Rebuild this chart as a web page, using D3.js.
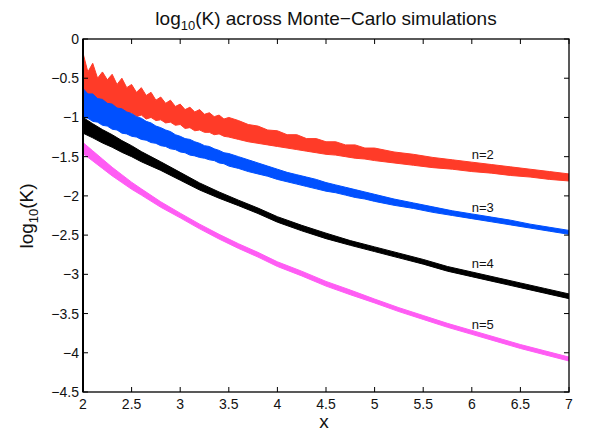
<!DOCTYPE html>
<html>
<head>
<meta charset="utf-8">
<script src="https://cdn.jsdelivr.net/npm/d3@7"></script>
<style>
  body { margin: 0; background: #fff; }
  svg { display: block; font-family: "Liberation Sans", Arial, Helvetica, sans-serif; }
</style>
</head>
<body>
<svg id="chart" width="589" height="432"></svg>
<script>
// log10(K) bands across Monte-Carlo runs, one band per n.

// x samples for the two wide bands (dense where the edges are jagged)
var xDense = [2.00, 2.05, 2.10, 2.15, 2.20, 2.25, 2.30, 2.35, 2.40, 2.45, 2.50, 2.55, 2.60, 2.65, 2.70,
  2.75, 2.80, 2.85, 2.90, 2.95, 3.00, 3.05, 3.10, 3.15, 3.20, 3.25, 3.30, 3.35, 3.40, 3.45, 3.50,
  3.6, 3.7, 3.8, 3.9, 4.0, 4.1, 4.2, 4.3, 4.4, 4.5, 4.6, 4.7, 4.8, 4.9, 5.0,
  5.2, 5.4, 5.6, 5.8, 6.0, 6.2, 6.4, 6.6, 6.8, 7.0];

// n = 2 (red)
var redTop = [-0.18, -0.42, -0.31, -0.50, -0.42, -0.52, -0.45, -0.58, -0.50, -0.62, -0.58, -0.68, -0.62, -0.72, -0.68,
  -0.78, -0.74, -0.82, -0.78, -0.86, -0.83, -0.90, -0.87, -0.93, -0.90, -0.96, -0.94, -0.99, -0.97, -1.02, -1.00,
  -1.04, -1.09, -1.11, -1.16, -1.17, -1.22, -1.22, -1.27, -1.27, -1.31, -1.31, -1.35, -1.35, -1.39, -1.39,
  -1.44, -1.47, -1.51, -1.54, -1.57, -1.60, -1.63, -1.66, -1.69, -1.72];
var redBottom = [-0.80, -0.84, -0.82, -0.87, -0.85, -0.90, -0.88, -0.93, -0.91, -0.96, -0.94, -0.99, -0.97, -1.02, -1.00,
  -1.04, -1.03, -1.07, -1.06, -1.10, -1.09, -1.14, -1.13, -1.17, -1.16, -1.19, -1.19, -1.22, -1.21, -1.24, -1.25,
  -1.28, -1.31, -1.33, -1.35, -1.37, -1.39, -1.41, -1.43, -1.45, -1.47, -1.48, -1.50, -1.52, -1.53, -1.55,
  -1.58, -1.61, -1.64, -1.66, -1.69, -1.71, -1.74, -1.76, -1.79, -1.81];

// n = 3 (blue)
var blueTop = [-0.63, -0.70, -0.70, -0.76, -0.77, -0.82, -0.83, -0.88, -0.89, -0.93, -0.95, -0.99, -1.01, -1.05, -1.07,
  -1.11, -1.13, -1.16, -1.18, -1.22, -1.24, -1.27, -1.28, -1.31, -1.33, -1.36, -1.37, -1.40, -1.42, -1.45, -1.46,
  -1.50, -1.54, -1.58, -1.62, -1.66, -1.70, -1.73, -1.76, -1.79, -1.83, -1.86, -1.89, -1.92, -1.95, -1.98,
  -2.04, -2.09, -2.14, -2.19, -2.23, -2.27, -2.31, -2.36, -2.40, -2.44];
var blueBottom = [-1.00, -1.01, -1.05, -1.06, -1.10, -1.11, -1.15, -1.16, -1.20, -1.21, -1.24, -1.25, -1.28, -1.29, -1.32,
  -1.33, -1.36, -1.37, -1.40, -1.41, -1.44, -1.45, -1.48, -1.49, -1.51, -1.52, -1.54, -1.55, -1.58, -1.59, -1.62,
  -1.65, -1.69, -1.72, -1.75, -1.79, -1.82, -1.85, -1.88, -1.91, -1.94, -1.96, -1.99, -2.02, -2.04, -2.07,
  -2.12, -2.16, -2.21, -2.25, -2.29, -2.33, -2.37, -2.41, -2.45, -2.49];

// x samples for the two narrow bands
var xCoarse = [2.0, 2.1, 2.2, 2.3, 2.4, 2.5, 2.6, 2.8, 3.0, 3.2, 3.4, 3.6, 3.8, 4.0, 4.25, 4.5, 4.75,
  5.0, 5.25, 5.5, 5.75, 6.0, 6.25, 6.5, 6.75, 7.0];

// n = 4 (black)
var blackTop = [-1.00, -1.08, -1.155, -1.22, -1.295, -1.36, -1.435, -1.565, -1.70, -1.835, -1.95, -2.055, -2.155,
  -2.265, -2.375, -2.475, -2.57, -2.65, -2.73, -2.81, -2.90, -2.97, -3.04, -3.11, -3.18, -3.25];
var blackBottom = [-1.20, -1.26, -1.325, -1.38, -1.445, -1.50, -1.565, -1.675, -1.80, -1.925, -2.03, -2.125, -2.225,
  -2.335, -2.445, -2.545, -2.63, -2.71, -2.79, -2.87, -2.96, -3.03, -3.10, -3.17, -3.24, -3.31];

// n = 5 (magenta)
var pinkTop = [-1.32, -1.425, -1.53, -1.635, -1.73, -1.825, -1.91, -2.075, -2.22, -2.36, -2.49, -2.61, -2.72,
  -2.84, -2.96, -3.09, -3.20, -3.315, -3.425, -3.525, -3.625, -3.715, -3.805, -3.895, -3.975, -4.055];
var pinkBottom = [-1.46, -1.555, -1.65, -1.745, -1.83, -1.915, -1.99, -2.145, -2.28, -2.42, -2.55, -2.67, -2.78,
  -2.90, -3.02, -3.15, -3.26, -3.365, -3.475, -3.575, -3.675, -3.765, -3.855, -3.945, -4.025, -4.105];

var xTicks = [2, 2.5, 3, 3.5, 4, 4.5, 5, 5.5, 6, 6.5, 7];
var yTicks = [0, -0.5, -1, -1.5, -2, -2.5, -3, -3.5, -4, -4.5];

// band labels: text, x, baseline y (data units)
var labelNames = ["n=2", "n=3", "n=4", "n=5"];
var labelX = [6.0, 6.0, 6.0, 6.0];
var labelY = [-1.53, -2.21, -2.92, -3.70];

var plotLeft = 83, plotRight = 569, plotTop = 39, plotBottom = 392;

var svg = d3.select("#chart");
var x = d3.scaleLinear().domain([2, 7]).range([plotLeft, plotRight]);
var y = d3.scaleLinear().domain([-4.5, 0]).range([plotBottom, plotTop]);

function makeRows (xs, hi, lo) {
    var rows = [];
    for (let i = 0; i < xs.length; i++) { rows.push({ x: xs[i], hi: hi[i], lo: lo[i] }); }
    return rows;
}

var area = d3.area()
    .x(d => x(d.x))
    .y0(d => y(d.lo))
    .y1(d => y(d.hi));

var bands = [
    { rows: makeRows(xDense, redTop, redBottom), color: "#ff3b28" },
    { rows: makeRows(xDense, blueTop, blueBottom), color: "#0050ff" },
    { rows: makeRows(xCoarse, blackTop, blackBottom), color: "#000000" },
    { rows: makeRows(xCoarse, pinkTop, pinkBottom), color: "#ff5cf4" }
];

svg.append("defs").append("clipPath").attr("id", "plotClip")
    .append("rect").attr("x", plotLeft).attr("y", plotTop)
    .attr("width", plotRight - plotLeft).attr("height", plotBottom - plotTop);

var plot = svg.append("g").attr("clip-path", "url(#plotClip)");
bands.forEach(function (b) {
    plot.append("path")
        .datum(b.rows)
        .attr("d", area)
        .attr("fill", b.color)
        .attr("stroke", b.color)
        .attr("stroke-width", 1)
        .attr("stroke-linejoin", "round");
});

// Band labels
for (let i = 0; i < labelNames.length; i++) {
    svg.append("text")
        .attr("x", x(labelX[i])).attr("y", y(labelY[i]))
        .attr("font-size", 13).attr("fill", "#111")
        .text(labelNames[i]);
}

// Axes, MATLAB style: ticks inside on all four sides
var fmt = v => String(v).replace("-", "\u2212");
var axisG = svg.append("g").attr("stroke", "#000");
axisG.append("rect")
    .attr("x", plotLeft).attr("y", plotTop)
    .attr("width", plotRight - plotLeft).attr("height", plotBottom - plotTop)
    .attr("fill", "none").attr("stroke-width", 1.3);
axisG.append("line").attr("x1", plotLeft).attr("x2", plotLeft)
    .attr("y1", plotTop).attr("y2", plotBottom).attr("stroke-width", 2);

var tickLen = 5;
xTicks.forEach(function (t) {
    axisG.append("line").attr("x1", x(t)).attr("x2", x(t))
        .attr("y1", plotBottom).attr("y2", plotBottom - tickLen).attr("stroke-width", 1);
    axisG.append("line").attr("x1", x(t)).attr("x2", x(t))
        .attr("y1", plotTop).attr("y2", plotTop + tickLen).attr("stroke-width", 1);
    svg.append("text")
        .attr("x", x(t)).attr("y", 409)
        .attr("text-anchor", "middle").attr("font-size", 14).attr("fill", "#111")
        .text(fmt(t));
});
yTicks.forEach(function (t) {
    axisG.append("line").attr("x1", plotLeft).attr("x2", plotLeft + tickLen)
        .attr("y1", y(t)).attr("y2", y(t)).attr("stroke-width", 1);
    axisG.append("line").attr("x1", plotRight).attr("x2", plotRight - tickLen)
        .attr("y1", y(t)).attr("y2", y(t)).attr("stroke-width", 1);
    svg.append("text")
        .attr("x", 79).attr("y", y(t) + 5)
        .attr("text-anchor", "end").attr("font-size", 14).attr("fill", "#111")
        .text(fmt(t));
});

// Title
var title = svg.append("text")
    .attr("x", 326).attr("y", 25)
    .attr("text-anchor", "middle").attr("font-size", 19).attr("fill", "#111");
title.append("tspan").text("log");
title.append("tspan").attr("font-size", 13).attr("dy", 5).text("10");
title.append("tspan").attr("dy", -5).text("(K) across Monte\u2212Carlo simulations");

// Axis labels
svg.append("text")
    .attr("x", 324).attr("y", 428)
    .attr("text-anchor", "middle").attr("font-size", 19).attr("fill", "#111")
    .text("x");

var ylab = svg.append("text")
    .attr("transform", "translate(33,216) rotate(-90)")
    .attr("text-anchor", "middle").attr("font-size", 19).attr("fill", "#111");
ylab.append("tspan").text("log");
ylab.append("tspan").attr("font-size", 13).attr("dy", 5).text("10");
ylab.append("tspan").attr("dy", -5).text("(K)");
</script>
</body>
</html>
